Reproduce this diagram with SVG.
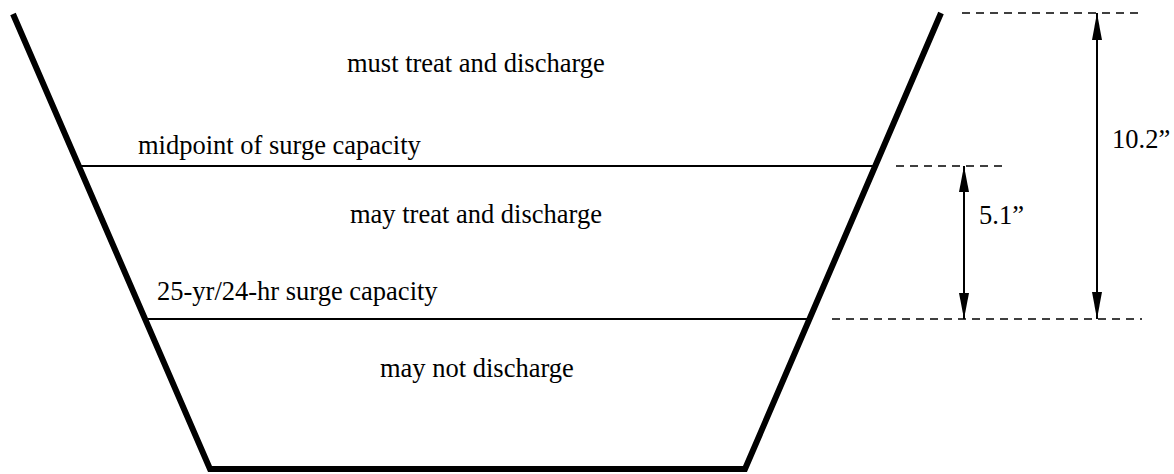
<svg xmlns="http://www.w3.org/2000/svg" width="1174" height="474" viewBox="0 0 1174 474">
<style>
.t{font-family:'Liberation Serif','Times New Roman',serif;font-size:26.5px;fill:#000}
.wall{fill:none;stroke:#000;stroke-width:6;stroke-linejoin:miter}
.lvl{stroke:#000;stroke-width:2}
.dash{stroke:#000;stroke-width:1.6;stroke-dasharray:8 6}
.dim{stroke:#000;stroke-width:2}
</style>
<g id="basin">
<polyline class="wall" points="13,14 210,469 745,469 941,13"/>
</g>
<g id="levels">
<line class="lvl" x1="79" y1="166" x2="875" y2="166"/>
<line class="lvl" x1="145" y1="319" x2="809" y2="319"/>
</g>
<g id="labels">
<text class="t" x="347" y="72">must treat and discharge</text>
<text class="t" x="138" y="154">midpoint of surge capacity</text>
<text class="t" x="350" y="223">may treat and discharge</text>
<text class="t" x="157" y="300">25-yr/24-hr surge capacity</text>
<text class="t" x="380" y="377">may not discharge</text>
<text class="t" x="979" y="224">5.1”</text>
<text class="t" x="1112" y="148">10.2”</text>
</g>
<g id="connectors">
<line class="dash" x1="962" y1="13" x2="1140" y2="13"/>
<line class="dash" x1="896" y1="166" x2="1004" y2="166"/>
<line class="dash" x1="832" y1="319" x2="1142" y2="319"/>
<path d="M964,166 L964,319" class="dim"/>
<polygon points="964,166 969,192 959,192"/>
<polygon points="964,319 969,293 959,293"/>
<path d="M1097,13 L1097,319" class="dim"/>
<polygon points="1097,13 1102,40 1092,40"/>
<polygon points="1097,319 1102,292 1092,292"/>
</g>
</svg>
